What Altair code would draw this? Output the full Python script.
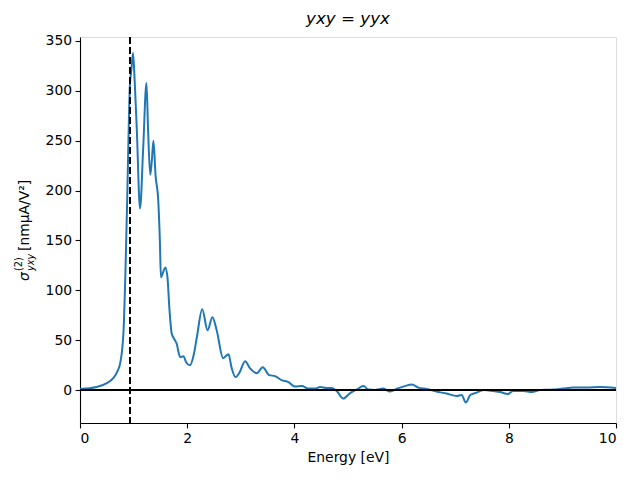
import altair as alt
import pandas as pd

energy = [0.00, 0.31, 0.50, 0.62, 0.70, 0.75, 0.81, 0.85, 0.88, 0.91, 0.93, 0.96, 0.99, 1.02, 1.06,
          1.12, 1.18, 1.24, 1.27, 1.31, 1.34, 1.37, 1.41, 1.46, 1.49, 1.51, 1.55, 1.59, 1.63, 1.67,
          1.71, 1.75, 1.80, 1.87, 1.93, 1.98, 2.05, 2.12, 2.18, 2.28, 2.38, 2.47, 2.55, 2.67, 2.77,
          2.83, 2.90, 2.97, 3.08, 3.17, 3.30, 3.41, 3.53, 3.64, 3.76, 3.89, 4.01, 4.14, 4.26, 4.38,
          4.48, 4.60, 4.70, 4.79, 4.91, 5.04, 5.16, 5.29, 5.38, 5.50, 5.66, 5.78, 5.94, 6.06, 6.19,
          6.31, 6.47, 6.65, 6.84, 7.03, 7.12, 7.20, 7.28, 7.40, 7.54, 7.71, 7.84, 7.98, 8.08, 8.27,
          8.43, 8.58, 8.83, 9.01, 9.20, 9.45, 9.70, 10.00]
sigma = [1, 3, 7, 12, 19, 27, 57, 123, 190, 265, 305, 322, 338, 310, 261,
         182, 244, 308, 261, 216, 230, 250, 215, 190, 150, 113, 118, 123, 114, 80,
         57, 52, 47, 33, 34, 28, 25, 35, 53, 81, 60, 73, 60, 32, 36,
         22, 13, 17, 29, 22, 17, 23, 15, 14, 10, 8, 3.5, 4, 1.5, 1.5,
         3, 2, 2, -1, -8.5, -3, 0.5, 4, 0.5, 0, 1.5, -1.5, 2, 4, 5.5,
         2.5, 1, -1.5, -3.5, -6, -5, -12.5, -5, -2.5, 0, -1, -2, -4, -1, -1,
         -2, 0, 0.5, 1.5, 2.5, 2.5, 3, 2]
band_gap = [0.933]
zero_line = [0]
x_ticks = [0, 2, 4, 6, 8, 10]
y_ticks = [0, 50, 100, 150, 200, 250, 300, 350]

df = pd.DataFrame({"energy": energy, "sigma": sigma})
FONT = "DejaVu Sans"

xscale = alt.Scale(domain=[0, 10], nice=False, zero=False)
yscale = alt.Scale(domain=[-33, 354], nice=False, zero=False)

axis_common = dict(
    labelFont=FONT, labelFontSize=13.9, labelColor="black",
    titleFont=FONT, titleFontSize=13.9, titleColor="black", titleFontWeight="normal",
    tickColor="black", tickSize=4.9, tickWidth=1.1, labelPadding=3.5,
    domainColor="black", domainWidth=1.1, grid=False,
)

line = alt.Chart(df).mark_line(color="#1f77b4", strokeWidth=2, interpolate="monotone", clip=True).encode(
    x=alt.X("energy:Q", scale=xscale,
            axis=alt.Axis(values=x_ticks, title="Energy [eV]", titlePadding=5, **axis_common)),
    y=alt.Y("sigma:Q", scale=yscale,
            axis=alt.Axis(values=y_ticks, title=None, **axis_common)),
)

hline = alt.Chart(pd.DataFrame({"y": zero_line})).mark_rule(color="black", strokeWidth=2).encode(
    y=alt.Y("y:Q", scale=yscale)
)
vline = alt.Chart(pd.DataFrame({"x": band_gap})).mark_rule(
    color="black", strokeWidth=2, strokeDash=[7, 3]).encode(
    x=alt.X("x:Q", scale=xscale)
)

def ylab(text, x, y, size, italic=False):
    return alt.Chart(pd.DataFrame({"t": [text]})).mark_text(
        angle=270, align="left", baseline="middle", font=FONT, fontSize=size,
        fontStyle="italic" if italic else "normal", color="black",
    ).encode(x=alt.value(x), y=alt.value(y), text="t:N")

# positions relative to plot area origin (left=80, top=37)
labels = (
    ylab("σ", 25 - 80, 281 - 37, 13.9, True)
    + ylab("(2)", 19 - 80, 271 - 37, 9.7)
    + ylab("yxy", 31 - 80, 271 - 37, 9.7, True)
    + ylab("[nmμA/V²]", 25 - 80, 251 - 37, 13.9)
)

chart = alt.layer(line, hline, vline, labels).properties(
    width=536, height=386,
    title=alt.TitleParams("yxy = yyx", font=FONT, fontSize=16.7, fontStyle="italic",
                          fontWeight="normal", color="black", offset=6),
    autosize=alt.AutoSizeParams(type="none"),
    padding={"left": 80, "top": 37, "right": 24, "bottom": 57},
).configure_view(stroke="black", strokeWidth=1.1).configure(background="white")

chart.save("out.html", embed_options={"renderer": "svg", "actions": False})
